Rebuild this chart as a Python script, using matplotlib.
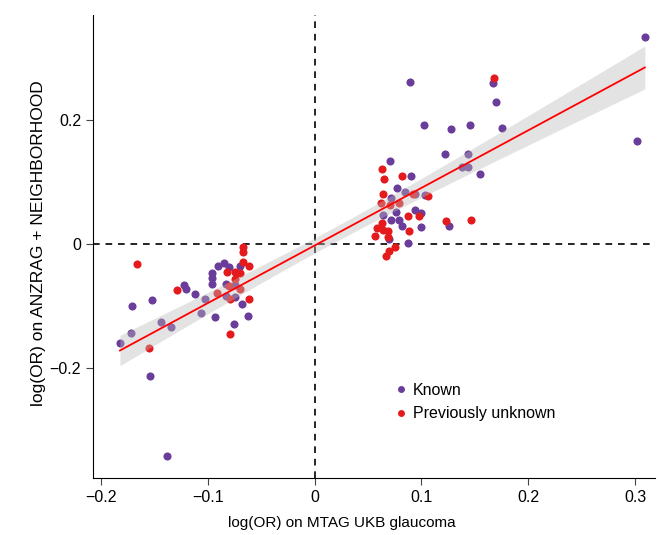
import numpy as np
from matplotlib import pyplot as plt
from matplotlib.lines import Line2D

# log(OR) values, known loci
known_x = [-0.182, -0.172, -0.171, -0.154, -0.152, -0.144, -0.138, -0.134, -0.122, -0.120,
           -0.112, -0.106, -0.102, -0.096, -0.096, -0.096, -0.093, -0.090, -0.085, -0.080,
           -0.083, -0.083, -0.075, -0.074, -0.074, -0.070, -0.068, -0.062,
           0.089, 0.167, 0.170, 0.102, 0.128, 0.145, 0.175, 0.122, 0.144, 0.138,
           0.144, 0.155, 0.071, 0.090, 0.077, 0.085, 0.094, 0.103, 0.072, 0.064,
           0.076, 0.094, 0.100, 0.072, 0.079, 0.082, 0.100, 0.126, 0.070, 0.087,
           0.309, 0.302]
known_y = [-0.159, -0.143, -0.099, -0.212, -0.090, -0.125, -0.342, -0.133, -0.065, -0.072,
           -0.080, -0.110, -0.088, -0.046, -0.054, -0.064, -0.118, -0.035, -0.030, -0.036,
           -0.064, -0.083, -0.129, -0.066, -0.085, -0.035, -0.097, -0.115,
           0.262, 0.260, 0.230, 0.192, 0.186, 0.192, 0.187, 0.146, 0.145, 0.125,
           0.124, 0.114, 0.135, 0.111, 0.091, 0.085, 0.082, 0.080, 0.075, 0.047,
           0.052, 0.056, 0.050, 0.040, 0.040, 0.030, 0.028, 0.029, 0.009, 0.002,
           0.334, 0.167]

# log(OR) values, previously unknown loci
new_x = [-0.166, -0.155, -0.129, -0.091, -0.082, -0.080, -0.079, -0.079, -0.074, -0.074,
         -0.070, -0.070, -0.067, -0.067, -0.067, -0.061, -0.061,
         0.168, 0.063, 0.065, 0.082, 0.092, 0.106, 0.064, 0.062, 0.071, 0.079,
         0.087, 0.098, 0.088, 0.063, 0.058, 0.057, 0.064, 0.069, 0.069, 0.075,
         0.070, 0.067, 0.123, 0.146]
new_y = [-0.032, -0.167, -0.074, -0.079, -0.044, -0.068, -0.089, -0.144, -0.045, -0.056,
         -0.047, -0.072, -0.005, -0.013, -0.028, -0.035, -0.088,
         0.269, 0.122, 0.106, 0.110, 0.081, 0.078, 0.081, 0.067, 0.064, 0.066,
         0.045, 0.046, 0.021, 0.035, 0.026, 0.014, 0.023, 0.022, 0.012, -0.005,
         -0.010, -0.019, 0.037, 0.039]

# regression line
FIT_SLOPE = 0.93
FIT_ICPT = -0.002

PURPLE = '#6a3d9a'
RED = '#e41a1c'

plt.rcParams['font.family'] = ['Liberation Sans', 'DejaVu Sans']

fig = plt.figure(figsize=(6.62, 5.35), dpi=100)
ax = fig.add_axes([93/662, 1 - 478/535, 562/662, 463/535])

ax.axvline(0, color='black', lw=1.2, ls=(0, (4, 3.5)), zorder=1)
ax.axhline(0, color='black', lw=1.2, ls=(0, (4, 3.5)), zorder=1)

ax.scatter(known_x, known_y, s=34, color=PURPLE, linewidths=0, zorder=2)
ax.scatter(new_x, new_y, s=34, color=RED, linewidths=0, zorder=2)

# line over the range of the data, 95% band from the residuals
x_all = np.array(known_x + new_x)
y_all = np.array(known_y + new_y)
n = len(x_all)
resid = y_all - (FIT_SLOPE*x_all + FIT_ICPT)
s_err = np.sqrt(np.sum(resid**2) / (n - 2))
xs = np.linspace(x_all.min(), x_all.max(), 200)
ys = FIT_SLOPE*xs + FIT_ICPT
se = s_err*np.sqrt(1.0/n + (xs - x_all.mean())**2 / np.sum((x_all - x_all.mean())**2))
ax.fill_between(xs, ys - 2.2*se, ys + 2.2*se, color='#bbbbbb', alpha=0.4, lw=0, zorder=3)
ax.plot(xs, ys, color='red', lw=1.3, zorder=4)

ax.set_xlim(-0.2072, 0.3185)
ax.set_ylim(-0.377, 0.370)
ax.set_xticks([-0.2, -0.1, 0, 0.1, 0.2, 0.3])
ax.set_xticklabels(['\u22120.2', '\u22120.1', '0', '0.1', '0.2', '0.3'])
ax.set_yticks([-0.2, 0, 0.2])
ax.set_yticklabels(['\u22120.2', '0', '0.2'])
ax.spines['top'].set_visible(False)
ax.spines['right'].set_visible(False)
ax.tick_params(labelsize=11.5, length=5, width=0.8, color='#444444')
ax.set_xlabel('log(OR) on MTAG UKB glaucoma', fontsize=11)
ax.xaxis.set_label_coords((342 - 93)/562, -0.082)
ax.set_ylabel('log(OR) on ANZRAG + NEIGHBORHOOD', fontsize=12.5)
ax.yaxis.set_label_coords(-0.084, (478 - 243.5)/463)

handles = [Line2D([], [], ls='', marker='o', ms=5, color=PURPLE, mew=0),
           Line2D([], [], ls='', marker='o', ms=5, color=RED, mew=0)]
ax.legend(handles, ['Known', 'Previously unknown'], loc='upper left',
          bbox_to_anchor=(0.525, 0.22), frameon=False, fontsize=11.5,
          handlelength=0.8, handletextpad=0.35, labelspacing=0.55, borderaxespad=0)

fig.savefig('out.png', dpi=100)
